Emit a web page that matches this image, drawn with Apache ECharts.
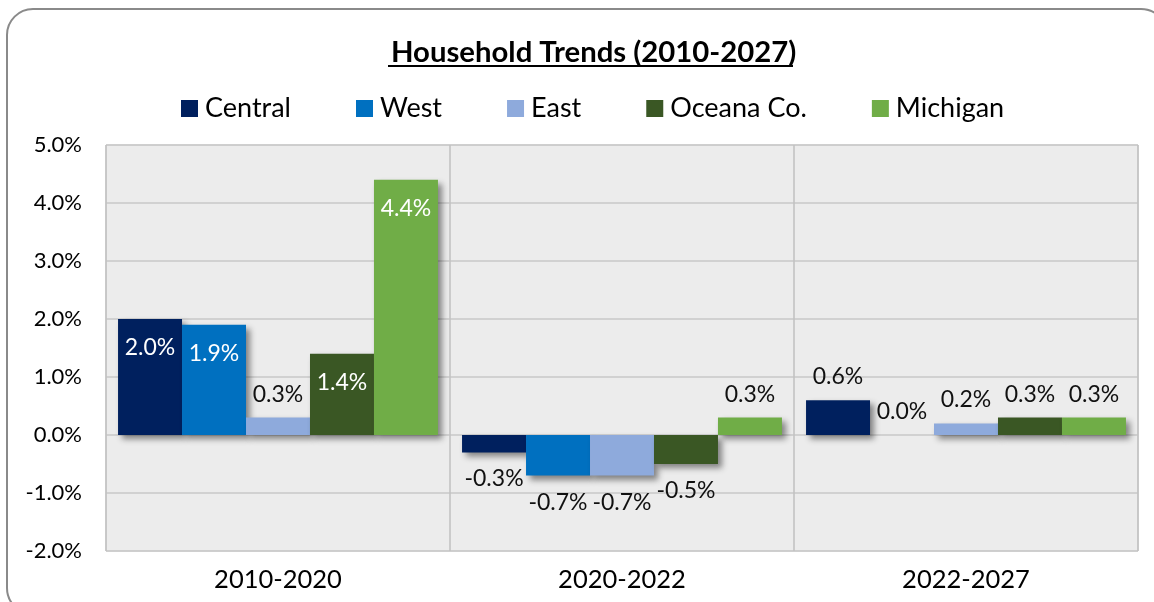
<!DOCTYPE html>
<html>
<head>
<meta charset="utf-8">
<script src="https://cdn.jsdelivr.net/npm/echarts@6/dist/echarts.min.js"></script>
<style>
  html, body { margin: 0; padding: 0; background: #fff; }
  #chart { width: 1154px; height: 602px; }
</style>
</head>
<body>
<div id="chart"></div>
<script>
const categories = ['2010-2020', '2020-2022', '2022-2027']
const central = [2.0, -0.3, 0.6]
const west = [1.9, -0.7, 0.0]
const east = [0.3, -0.7, 0.2]
const oceana = [1.4, -0.5, 0.3]
const michigan = [4.4, 0.3, 0.3]
const yTicks = [-2, -1, 0, 1, 2, 3, 4, 5]

const FONT = 'Lato'

// label placement: big bars inside, small above, negatives below
const withLabels = (arr) => arr.map(v => {
  let label
  if (v >= 1) {
    label = { position: 'insideTop', distance: 17, color: '#fff' }
  } else if (v >= 0) {
    label = { position: 'top', distance: 12, color: '#111' }
  } else {
    label = { position: 'bottom', distance: 15, color: '#111' }
  }
  return { value: v, label }
})

const mk = (name, arr, color) => ({
  name,
  type: 'bar',
  barGap: 0,
  barCategoryGap: '7%',
  data: withLabels(arr),
  itemStyle: {
    color,
    shadowColor: 'rgba(0,0,0,0.45)',
    shadowBlur: 6,
    shadowOffsetX: 4,
    shadowOffsetY: 4
  },
  label: {
    show: true,
    fontFamily: FONT,
    fontSize: 23,
    formatter: p => p.value.toFixed(1) + '%'
  }
})

var myChart = echarts.init(document.getElementById('chart'))
myChart.setOption({
  animation: false,
  textStyle: { fontFamily: FONT },
  title: {
    text: 'Household Trends (2010-2027)',
    left: 386,
    top: 33,
    textStyle: { fontFamily: FONT, fontSize: 29.3, fontWeight: 'bold', color: '#000' }
  },
  graphic: [
    {
      type: 'rect',
      shape: { x: 7, y: 9, width: 1160, height: 605, r: 26 },
      style: { fill: 'none', stroke: '#8a8a8a', lineWidth: 2 },
      silent: true
    },
    {
      type: 'line',
      shape: { x1: 388, y1: 66, x2: 793, y2: 66 },
      style: { stroke: '#000', lineWidth: 2 },
      silent: true
    }
  ],
  legend: {
    top: 90,
    left: 176,
    itemWidth: 17,
    itemHeight: 17,
    itemGap: 65,
    icon: 'rect',
    textStyle: { fontFamily: FONT, fontSize: 27, color: '#000', padding: [0, 0, 0, 2] }
  },
  grid: {
    left: 106,
    right: 16,
    top: 145,
    bottom: 51,
    show: true,
    backgroundColor: '#ececec',
    borderColor: '#c8c8c8',
    borderWidth: 1
  },
  xAxis: {
    type: 'category',
    data: categories,
    axisLine: { show: false },
    axisTick: { show: false },
    splitLine: { show: true, lineStyle: { color: '#c0c0c0', width: 1.5 } },
    axisLabel: { fontFamily: FONT, fontSize: 25.5, color: '#000', margin: 16 }
  },
  yAxis: {
    type: 'value',
    min: yTicks[0],
    max: yTicks[yTicks.length - 1],
    interval: 1,
    axisLine: { show: false },
    axisTick: { show: false },
    splitLine: { lineStyle: { color: '#c8c8c8', width: 1.5 } },
    axisLabel: {
      fontFamily: FONT,
      fontSize: 22,
      color: '#000',
      margin: 24,
      formatter: v => v.toFixed(1) + '%'
    }
  },
  series: [
    mk('Central', central, '#00205e'),
    mk('West', west, '#0070c0'),
    mk('East', east, '#8eaadc'),
    mk('Oceana Co.', oceana, '#3a5724'),
    mk('Michigan', michigan, '#70ad47')
  ]
})
</script>
</body>
</html>
